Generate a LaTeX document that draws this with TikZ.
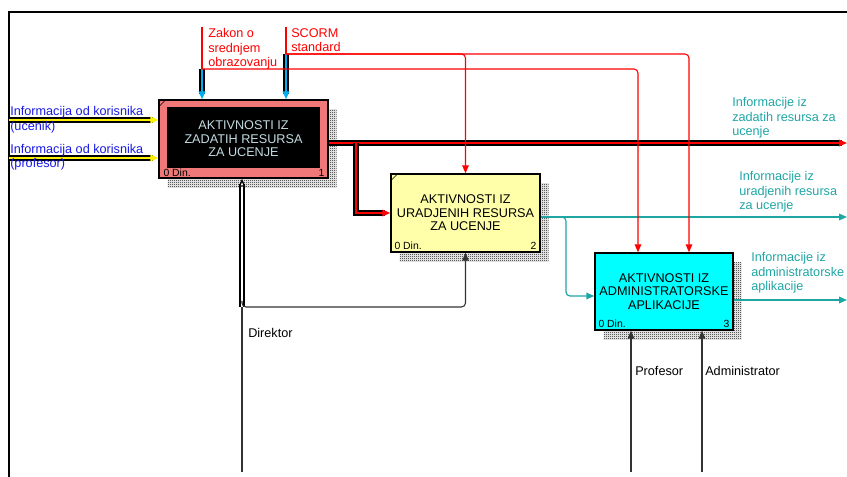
\documentclass[tikz,border=0pt]{standalone}
\usepackage{fontspec}
\setmainfont{Liberation Sans}
\usetikzlibrary{arrows.meta,shadows,patterns}

\definecolor{boxpink}{RGB}{240,120,120}
\definecolor{boxyellow}{RGB}{255,255,170}
\definecolor{boxcyan}{RGB}{0,255,255}
\definecolor{boxtext}{RGB}{195,220,225}
\definecolor{flowteal}{RGB}{32,165,165}
\definecolor{labelblue}{RGB}{25,25,230}

\pgfdeclarepatternformonly{checker}{\pgfpointorigin}{\pgfqpoint{1.5pt}{1.5pt}}{\pgfqpoint{1.5pt}{1.5pt}}
	{\pgfpathrectangle{\pgfpointorigin}{\pgfqpoint{0.75pt}{0.75pt}}
	\pgfpathrectangle{\pgfqpoint{0.75pt}{0.75pt}}{\pgfqpoint{0.75pt}{0.75pt}}\pgfusepath{fill}}

\begin{document}
\begin{tikzpicture}[x=0.75pt,y=-0.75pt,>={Triangle[length=6pt,width=5pt]},
	act node/.style={rectangle,draw=black,line width=1.1pt,align=center,inner sep=0pt,
		font=\fontsize{9.5}{10.2}\selectfont,
		general shadow={shadow xshift=6.5pt,shadow yshift=-7pt,pattern=checker,pattern color=black}},
	din node/.style={inner sep=0pt,font=\fontsize{7.8}{8}\selectfont},
	lbl node/.style={anchor=west,align=left,inner sep=0pt,font=\fontsize{9.5}{10.9}\selectfont},
	pipe/.style={draw=#1,line width=1pt,preaction={draw=black,line width=3.8pt,shorten >=4pt,-},
		-{Triangle[length=6pt,width=5pt]}},
	flow/.style={draw=flowteal,line width=0.9pt,rounded corners=3pt,->},
	ctrl/.style={draw=red,line width=0.8pt,rounded corners=3pt},
	mech/.style={draw=black!80,line width=0.8pt,rounded corners=3pt}]

	\useasboundingbox (0,0) rectangle (847,477);
	\draw[line width=1.5pt] (847,12) -- (9,12) -- (9,477);

	% activities
	\node[act node,fill=boxpink,text=boxtext,minimum width=126.75pt,minimum height=58.5pt,
		path picture={\fill[black] ([shift={(8,7)}]path picture bounding box.north west)
			rectangle ([shift={(-8,-10)}]path picture bounding box.south east);}]
		(b1) at (243.5,139) {AKTIVNOSTI IZ\\ZADATIH RESURSA\\ZA UCENJE};
	\node[act node,fill=boxyellow,minimum width=111.75pt,minimum height=58.5pt]
		(b2) at (465.5,213) {AKTIVNOSTI IZ\\URADJENIH RESURSA\\ZA UCENJE};
	\node[act node,fill=boxcyan,minimum width=103.5pt,minimum height=57.75pt]
		(b3) at (664,291.5) {AKTIVNOSTI IZ\\ADMINISTRATORSKE\\APLIKACIJE};

	\draw ([shift={(0,8)}]b1.north west) -- ([shift={(8,0)}]b1.north west);
	\draw ([shift={(0,8)}]b2.north west) -- ([shift={(8,0)}]b2.north west);

	\node[din node,anchor=south west] (b1n) at ([shift={(5,-2)}]b1.south west) {0 Din.};
	\node[din node,anchor=south east] (b1k) at ([shift={(-4,-2)}]b1.south east) {1};
	\node[din node,anchor=south west] (b2n) at ([shift={(4,-3)}]b2.south west) {0 Din.};
	\node[din node,anchor=south east] (b2k) at ([shift={(-4,-3)}]b2.south east) {2};
	\node[din node,anchor=south west] (b3n) at ([shift={(4,-3)}]b3.south west) {0 Din.};
	\node[din node,anchor=south east] (b3k) at ([shift={(-4,-3)}]b3.south east) {3};

	% inputs
	\coordinate (i1) at (9,120);
	\coordinate (i2) at (9,158);
	\draw[pipe=yellow] (i1) -- (i1 -| b1.west);
	\draw[pipe=yellow] (i2) -- (i2 -| b1.west);
	\node[lbl node,text=labelblue] (ucenik) at (10,119.5) {Informacija od korisnika\\(ucenik)};
	\node[lbl node,text=labelblue] (profesor) at (10,157) {Informacija od korisnika\\(profesor)};

	% outputs
	\coordinate (o1) at (847,143);
	\coordinate (j1) at (356,143);
	\draw[pipe=red] (o1 -| b1.east) -- (o1);
	\draw[pipe=red] (j1) |- (b2.west);
	\coordinate (o2) at (847,217);
	\coordinate (j2) at (566,217);
	\draw[flow] (o2 -| b2.east) -- (o2);
	\draw[flow] ([shift={(-8,0)}]j2) -- (j2) |- ([shift={(0,4.5)}]b3.west);
	\coordinate (o3) at (847,300);
	\draw[flow] (o3 -| b3.east) -- (o3);
	\node[lbl node,text=flowteal] (out1) at (732,118) {Informacije iz\\zadatih resursa za\\ucenje};
	\node[lbl node,text=flowteal] (out2) at (739,192) {Informacije iz\\uradjenih resursa\\za ucenje};
	\node[lbl node,text=flowteal] (out3) at (751,273) {Informacije iz\\administratorske\\aplikacije};

	% controls
	\coordinate (c1) at (202,27);
	\coordinate (c1s) at (202,69);
	\coordinate (c2) at (286,27);
	\coordinate (c2s) at (286,54);
	\draw[ctrl] (c1) -- (c1s);
	\draw[ctrl] (c2) -- (c2s);
	\draw[pipe=cyan] (c1s) -- (c1s |- b1.north);
	\draw[pipe=cyan] (c2s) -- (c2s |- b1.north);
	\draw[ctrl,->] (c1s) -| ([shift={(-26,0)}]b3.north);
	\draw[ctrl,->] (c2s) -| ([shift={(25,0)}]b3.north);
	\draw[ctrl,->] (c2s) -| (b2.north);
	\node[lbl node,text=red] (zakon) at (208,49) {Zakon o\\srednjem\\obrazovanju};
	\node[lbl node,text=red] (scorm) at (291,40) {SCORM\\standard};

	% mechanisms
	\coordinate (m1) at (242,472);
	\coordinate (m1s) at (242,307);
	\coordinate (m2) at (631,472);
	\coordinate (m3) at (702,472);
	\draw[mech] (m1) -- (m1s);
	\draw[pipe=white,-{Triangle[length=6pt,width=5pt,color=black,fill=white]}] (m1s) -- (m1s |- b1.south);
	\draw[mech,->] ([shift={(0,-6)}]m1s) -- (m1s) -| (b2.south);
	\draw[mech,->] (m2) -- (m2 |- b3.south);
	\draw[mech,->] (m3) -- (m3 |- b3.south);
	\node[lbl node] (direktor) at (248,333) {Direktor};
	\node[lbl node] (prof) at (635,371) {Profesor};
	\node[lbl node] (admin) at (705,371) {Administrator};
\end{tikzpicture}
\end{document}
